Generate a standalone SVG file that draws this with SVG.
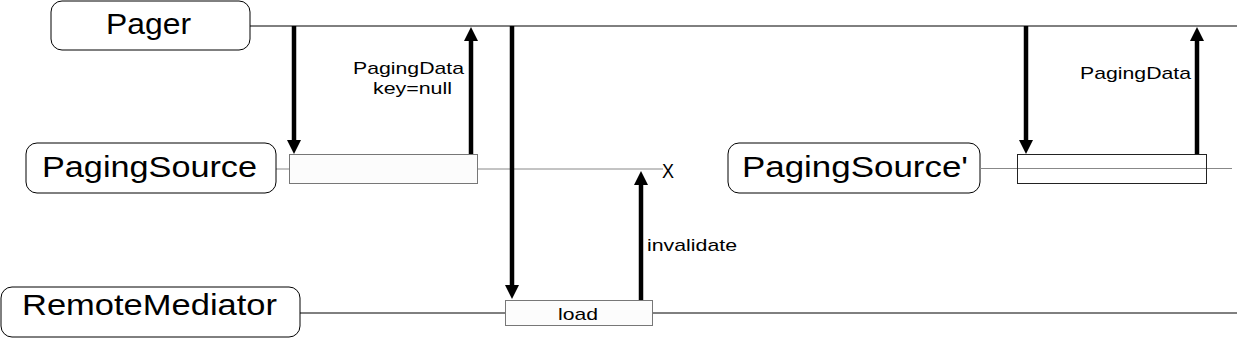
<svg xmlns="http://www.w3.org/2000/svg" width="1237" height="338" viewBox="0 0 1237 338">
<style>
.node{fill:#fff;stroke:#000;stroke-width:1}
.big{font-family:"Liberation Sans",Arial,sans-serif;font-size:30px;fill:#000}
.small{font-family:"Liberation Sans",Arial,sans-serif;font-size:17px;fill:#000}
.life{stroke:#000;stroke-width:1;fill:none}
.life2{stroke:#888;stroke-width:1;fill:none}
.act{fill:#fcfcfc;stroke:#777;stroke-width:1}
.msg{stroke:#000;stroke-width:4.5;fill:none;marker-end:url(#ah)}
</style>
<defs>
<marker id="ah" markerUnits="userSpaceOnUse" markerWidth="15" markerHeight="14" refX="0" refY="7" orient="auto" overflow="visible">
<path d="M0,0 L14,7 L0,14 z" fill="#000"/>
</marker>
</defs>
<rect width="1237" height="338" fill="#fff"/>
<g id="lifelines">
<line class="life" x1="250" y1="26" x2="1237" y2="26"/>
<line class="life2" x1="276" y1="169" x2="663" y2="169"/>
<line class="life" x1="300" y1="313" x2="1237" y2="313"/>
</g>
<g id="pager">
<rect class="node" x="51" y="1" width="199" height="49" rx="11"/>
<text class="big" x="106" y="34" textLength="85" lengthAdjust="spacingAndGlyphs">Pager</text>
</g>
<g id="pagingsource">
<rect class="node" x="26" y="143" width="250" height="50" rx="11"/>
<text class="big" x="42" y="177" textLength="215" lengthAdjust="spacingAndGlyphs">PagingSource</text>
<rect class="act" x="289.5" y="154.5" width="188" height="29"/>
<text class="small" x="662" y="178" style="font-size:20px" textLength="12" lengthAdjust="spacingAndGlyphs">X</text>
</g>
<g id="pagingsource2">
<rect class="node" x="728" y="143" width="252" height="50" rx="11"/>
<text class="big" x="742" y="177" textLength="226" lengthAdjust="spacingAndGlyphs">PagingSource'</text>
<line class="life2" x1="980" y1="168.5" x2="1232" y2="168.5"/>
<rect x="1017.5" y="154.5" width="189" height="29" fill="none" stroke="#222" stroke-width="1"/>
</g>
<g id="remotemediator">
<rect class="node" x="1" y="287" width="299" height="50" rx="11"/>
<text class="big" x="22" y="315" textLength="255" lengthAdjust="spacingAndGlyphs">RemoteMediator</text>
<rect class="act" x="505.5" y="300.5" width="147" height="25"/>
<text class="small" x="558" y="320" textLength="40" lengthAdjust="spacingAndGlyphs">load</text>
</g>
<g id="connectors">
<line class="msg" x1="294" y1="26" x2="294" y2="140"/>
<line class="msg" x1="471" y1="154" x2="471" y2="41"/>
<line class="msg" x1="512" y1="26" x2="512" y2="285"/>
<line class="msg" x1="641" y1="300" x2="641" y2="185"/>
<line class="msg" x1="1026" y1="26" x2="1026" y2="140"/>
<line class="msg" x1="1197" y1="154" x2="1197" y2="41"/>
<text class="small" x="353" y="74" textLength="111" lengthAdjust="spacingAndGlyphs">PagingData</text>
<text class="small" x="373" y="94" textLength="79" lengthAdjust="spacingAndGlyphs">key=null</text>
<text class="small" x="1080" y="79" textLength="111" lengthAdjust="spacingAndGlyphs">PagingData</text>
<text class="small" x="647" y="251" textLength="90" lengthAdjust="spacingAndGlyphs">invalidate</text>
</g>
</svg>
